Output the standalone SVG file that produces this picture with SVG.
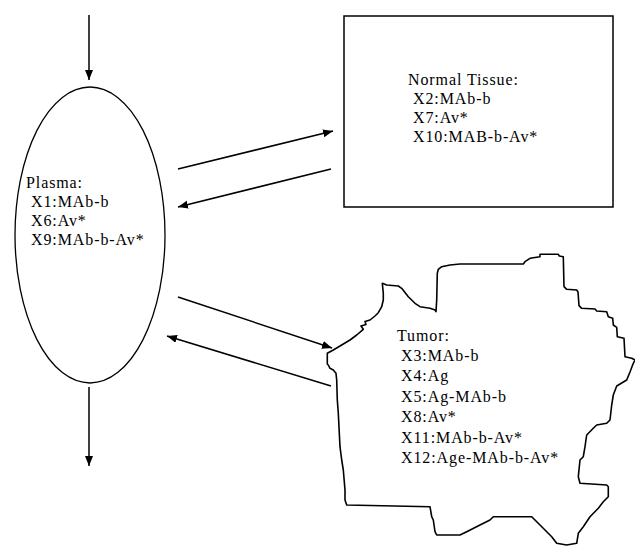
<svg xmlns="http://www.w3.org/2000/svg" width="635" height="546" viewBox="0 0 635 546">
<defs>
<marker id="ah" markerUnits="userSpaceOnUse" markerWidth="11" markerHeight="9" refX="10" refY="4" orient="auto">
<path d="M0,0 L10,4 L0,8 Z" fill="#000"/>
</marker>
<style>
.t{font-family:"Liberation Serif","Times New Roman",serif;font-size:16px;letter-spacing:0.9px;fill:#000}
.c{stroke:#000;stroke-width:1.5;fill:none;marker-end:url(#ah)}
.n{stroke:#000;fill:#fff}
</style>
</defs>
<rect width="635" height="546" fill="#fff"/>
<g id="plasma">
<ellipse class="n" cx="90" cy="235" rx="75" ry="148" stroke-width="1.3"/>
<text class="t" x="26" y="188">Plasma:</text>
<text class="t" x="31" y="207">X1:MAb-b</text>
<text class="t" x="31" y="226">X6:Av*</text>
<text class="t" x="31" y="245">X9:MAb-b-Av*</text>
</g>
<g id="normal-tissue">
<rect class="n" x="344" y="16" width="269" height="191" stroke-width="1.5"/>
<text class="t" x="408" y="85">Normal Tissue:</text>
<text class="t" x="413" y="104">X2:MAb-b</text>
<text class="t" x="413" y="123">X7:Av*</text>
<text class="t" x="413" y="142">X10:MAB-b-Av*</text>
</g>
<g id="tumor">
<path class="n" stroke-width="1.6" stroke-linejoin="round" d="M327.3,364 L327.3,353.3 L333.3,350 L340,346 L350,340 L356.7,335 L363.3,329.3 L361,326 L366,324.5 L365,321.5 L370,320 L375,316 L378.3,312.7 L381.7,306.7 L383.3,300 L383.3,293.3 L382.3,283.3 L386.7,285 L398.3,286 L401.7,288.3 L408.3,296.7 L415,303.3 L420,306.7 L430,308.3 L435,310 L436,311.7 L436.7,300 L437.3,273.3 L438.3,269.3 L441.7,266.7 L450,265 L460,264 L523.3,264 L525,261.7 L530,258.3 L540,256.7 L540,254.3 L558.3,254.3 L559.3,256 L563.3,256.7 L564,286.7 L566.7,289.3 L576.7,290 L578,292 L579,305.7 L581.7,308.3 L595,309 L596.7,311 L606.7,311.7 L608.3,316.7 L612.7,318.3 L613.3,325 L616.7,327.3 L617.3,336.7 L624,338.3 L625,356.7 L631.7,358.3 L635,360 L633,364 L630,372 L626.7,380 L616.7,386 L613.3,395 L611.7,405 L610,420 L606.7,423.3 L596.7,425 L593.3,428.3 L586.7,435 L585,446.7 L583.3,456.7 L580,460 L578.3,476.7 L580,483.3 L606.7,485 L608.3,486.7 L608.3,496.7 L603.3,501.7 L598.3,508.3 L590,516.7 L583.3,526.7 L578.3,533.3 L576.7,543.3 L566.7,545 L556.7,543.3 L551.7,536.7 L540,525 L531.7,516.7 L493.3,516.7 L490,520 L480,525 L466.7,531.7 L460,535 L436.7,535 L435,531.7 L433.3,520 L431.7,516.7 L430,506.7 L346.7,505 L345,500 L345,490 L343.3,470 L341.7,460 L340,446.7 L338.3,413.3 L337.3,400 L336.7,380 L336,373.3 L333.3,370 L330,368.3 L328.3,365 Z"/>
<text class="t" x="397" y="341">Tumor:</text>
<text class="t" x="401" y="361">X3:MAb-b</text>
<text class="t" x="401" y="381">X4:Ag</text>
<text class="t" x="401" y="402">X5:Ag-MAb-b</text>
<text class="t" x="401" y="422">X8:Av*</text>
<text class="t" x="401" y="443">X11:MAb-b-Av*</text>
<text class="t" x="401" y="463">X12:Age-MAb-b-Av*</text>
</g>
<g id="connectors">
<line class="c" x1="89" y1="15" x2="89" y2="80"/>
<line class="c" x1="89" y1="387" x2="89" y2="466"/>
<line class="c" x1="178" y1="169" x2="333" y2="131"/>
<line class="c" x1="331" y1="169" x2="178" y2="207"/>
<line class="c" x1="178" y1="297" x2="332" y2="348"/>
<line class="c" x1="331" y1="386" x2="167" y2="336"/>
</g>
</svg>
